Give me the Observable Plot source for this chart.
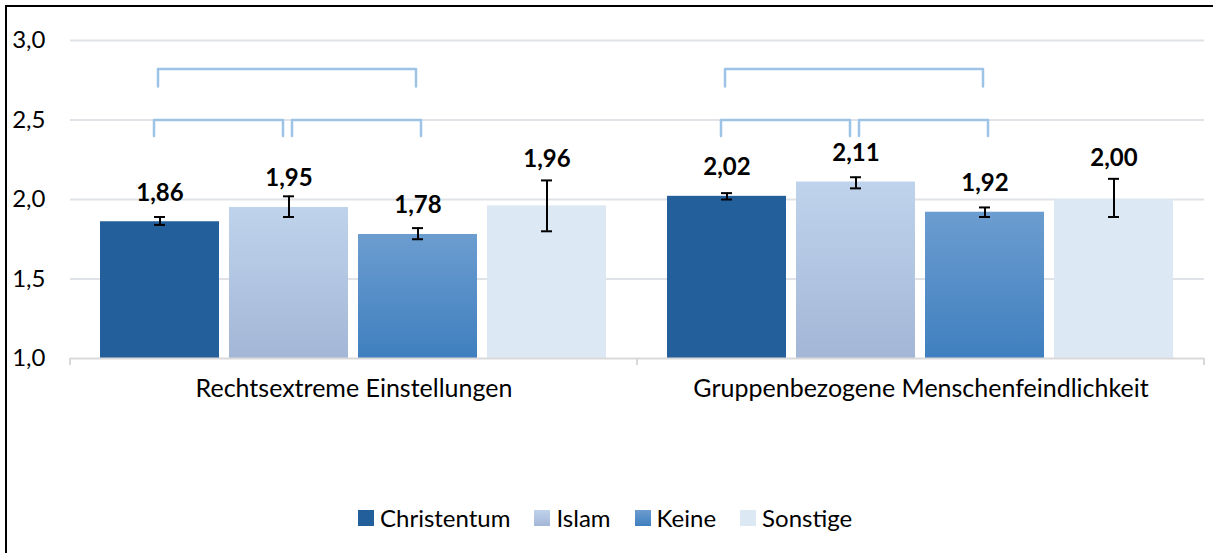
<!DOCTYPE html>
<html><head><meta charset="utf-8">
<script src="https://cdn.jsdelivr.net/npm/d3@7"></script>
<script src="https://cdn.jsdelivr.net/npm/@observablehq/plot@0.6"></script>
<style>
body{margin:0;background:#fff;font-family:Lato, sans-serif;}
#wrap{position:relative;width:1213px;height:553px;overflow:hidden;background:#fff;}
#frame{position:absolute;left:5px;top:5px;width:1300px;height:700px;border-top:2px solid #000;border-left:2px solid #000;pointer-events:none;}
#chart{position:absolute;left:0;top:0;}
#legend{position:absolute;left:358px;top:505px;display:flex;align-items:center;font-size:24px;color:#000;line-height:26px;}
.item{display:flex;align-items:center;margin-right:24px;}
.sw{width:16px;height:16px;margin-right:6px;}
</style></head>
<body>
<div id="wrap"><div id="chart"></div><div id="legend"></div><div id="frame"></div></div>
<script>
// ---- data ----
const groups = ["Rechtsextreme Einstellungen", "Gruppenbezogene Menschenfeindlichkeit"];
const religions = ["Christentum", "Islam", "Keine", "Sonstige"];
const meanRE  = [1.86, 1.95, 1.78, 1.96];
const lowRE   = [1.84, 1.89, 1.75, 1.80];
const highRE  = [1.89, 2.02, 1.82, 2.12];
const meanGMF = [2.02, 2.11, 1.92, 2.00];
const lowGMF  = [2.00, 2.07, 1.89, 1.89];
const highGMF = [2.04, 2.14, 1.95, 2.13];
const yTicks = [1.0, 1.5, 2.0, 2.5, 3.0];
const bracketFrom = ["Christentum", "Christentum", "Islam"];
const bracketTo   = ["Keine", "Islam", "Keine"];
const bracketTop  = [2.82, 2.50, 2.50];
const bracketFoot = [2.71, 2.40, 2.40];

// ---- styles ----
const fills = {Christentum: "#235f9b", Islam: "url(#gIslam)", Keine: "url(#gKeine)", Sonstige: "#dde8f5"};
const swatchCss = {Christentum: "#235f9b", Islam: "linear-gradient(#c0d3ec,#a3b6d6)", Keine: "linear-gradient(#6c9dd0,#3f7fbf)", Sonstige: "#dde8f5"};
const bracketDx = [-2, -6, 3];
const fmt = v => v.toFixed(2).replace(".", ",");
const means = [meanRE, meanGMF], lows = [lowRE, lowGMF], highs = [highRE, highGMF];

const rows = groups.flatMap((g, gi) => religions.map((r, ri) => ({
  group: g, religion: r, mean: means[gi][ri], lo: lows[gi][ri], hi: highs[gi][ri], fill: fills[r]
})));
const brackets = bracketFrom.flatMap((a, i) => [
  {id: i, x: a, y: bracketFoot[i]}, {id: i, x: a, y: bracketTop[i]},
  {id: i, x: bracketTo[i], y: bracketTop[i]}, {id: i, x: bracketTo[i], y: bracketFoot[i]}
]);

const font = "Lato, sans-serif";
const chart = Plot.plot({
  width: 1213, height: 420,
  marginLeft: 70, marginRight: 9, marginTop: 40, marginBottom: 62,
  style: {fontFamily: font, fontSize: "24px", color: "#000", background: "transparent"},
  fx: {domain: groups, padding: 0, label: null},
  x: {domain: religions, paddingInner: 0.077, paddingOuter: 0.22, axis: null},
  y: {domain: [1, 3.0], label: null},
  color: {type: "identity"},
  marks: [
    Plot.ruleY(yTicks.filter(t => t > 1), {stroke: "#dfe3e8", strokeWidth: 2}),
    Plot.barY(rows, {fx: "group", x: "religion", y1: 1, y2: "mean", fill: "fill"}),
    Plot.ruleY([1], {stroke: "#d9d9d9", strokeWidth: 2}),
    Plot.ruleX(rows, {fx: "group", x: "religion", y1: "lo", y2: "hi", stroke: "#000", strokeWidth: 2}),
    Plot.tickY(rows, {fx: "group", x: "religion", y: "lo", stroke: "#000", strokeWidth: 2, insetLeft: 54, insetRight: 54}),
    Plot.tickY(rows, {fx: "group", x: "religion", y: "hi", stroke: "#000", strokeWidth: 2, insetLeft: 54, insetRight: 54}),
    ...bracketFrom.map((_, i) => Plot.line(brackets.filter(d => d.id === i),
      {x: "x", y: "y", dx: bracketDx[i], stroke: "#9dc3e6", strokeWidth: 2.5})),
    Plot.text(rows.filter(d => d.religion !== "Sonstige"), {fx: "group", x: "religion", y: "mean",
      text: d => fmt(d.mean), dy: -21, lineAnchor: "bottom", fontWeight: "bold", fontSize: 24, fill: "#000"}),
    Plot.text(rows.filter(d => d.religion === "Sonstige"), {fx: "group", x: "religion", y: "hi",
      text: d => fmt(d.mean), dy: -13, lineAnchor: "bottom", fontWeight: "bold", fontSize: 24, fill: "#000"}),
    Plot.axisY({ticks: yTicks, tickSize: 0, tickPadding: 25, tickFormat: d => d.toFixed(1).replace(".", ","), fontSize: 24}),
    Plot.axisFx({anchor: "bottom", tickSize: 0, tickPadding: 21, fontSize: 25, label: null})
  ]
});

// gradients for bars
const ns = "http://www.w3.org/2000/svg";
const defs = document.createElementNS(ns, "defs");
[["gIslam", "#c0d3ec", "#a3b6d6"], ["gKeine", "#6c9dd0", "#3f7fbf"]].forEach(([id, c0, c1]) => {
  const lg = document.createElementNS(ns, "linearGradient");
  lg.setAttribute("id", id); lg.setAttribute("x1", "0"); lg.setAttribute("y1", "0"); lg.setAttribute("x2", "0"); lg.setAttribute("y2", "1");
  [[0, c0], [1, c1]].forEach(([o, c]) => {
    const s = document.createElementNS(ns, "stop");
    s.setAttribute("offset", o); s.setAttribute("stop-color", c); lg.appendChild(s);
  });
  defs.appendChild(lg);
});
chart.insertBefore(defs, chart.firstChild);

// category boundary ticks below the baseline, from the library's scales
const fxs = chart.scale("fx"), ys = chart.scale("y");
const yb = ys.apply(1);
const edges = [...groups.map(g => fxs.apply(g)), fxs.apply(groups[groups.length - 1]) + fxs.bandwidth];
d3.select(chart).append("g").selectAll("line").data(edges).join("line")
  .attr("x1", d => d).attr("x2", d => d).attr("y1", yb).attr("y2", yb + 7)
  .attr("stroke", "#d9d9d9").attr("stroke-width", 2);

document.getElementById("chart").appendChild(chart);

// legend
const legend = document.getElementById("legend");
religions.forEach(r => {
  const it = document.createElement("div"); it.className = "item";
  const sw = document.createElement("div"); sw.className = "sw"; sw.style.background = swatchCss[r];
  const tx = document.createElement("span"); tx.textContent = r;
  it.appendChild(sw); it.appendChild(tx); legend.appendChild(it);
});
</script>
</body></html>
